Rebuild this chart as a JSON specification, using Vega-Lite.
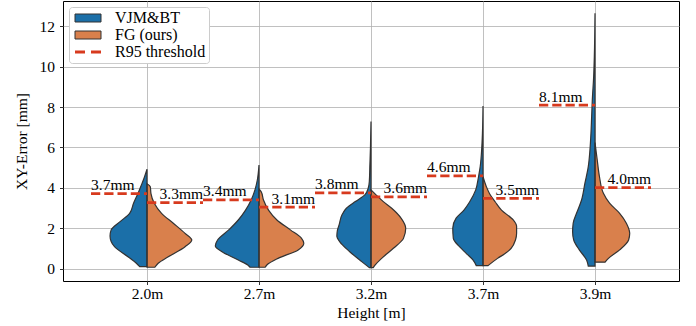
{
  "$schema": "https://vega.github.io/schema/vega-lite/v6.json",
  "width": 616,
  "height": 280,
  "autosize": {"type": "none"},
  "padding": {"left": 63, "top": 1, "right": 17, "bottom": 45},
  "background": "white",
  "datasets": {
    "violins": [
      {"h":"2.0m","series":"VJM&BT","pos":0,"err":0.1,"edge":-0.065},
      {"h":"2.0m","series":"VJM&BT","pos":0,"err":0.27,"edge":-0.095},
      {"h":"2.0m","series":"VJM&BT","pos":0,"err":0.59,"edge":-0.17},
      {"h":"2.0m","series":"VJM&BT","pos":0,"err":1.09,"edge":-0.29},
      {"h":"2.0m","series":"VJM&BT","pos":0,"err":1.35,"edge":-0.32},
      {"h":"2.0m","series":"VJM&BT","pos":0,"err":1.62,"edge":-0.33},
      {"h":"2.0m","series":"VJM&BT","pos":0,"err":1.92,"edge":-0.32},
      {"h":"2.0m","series":"VJM&BT","pos":0,"err":2.33,"edge":-0.24},
      {"h":"2.0m","series":"VJM&BT","pos":0,"err":2.74,"edge":-0.155},
      {"h":"2.0m","series":"VJM&BT","pos":0,"err":3.24,"edge":-0.12},
      {"h":"2.0m","series":"VJM&BT","pos":0,"err":3.73,"edge":-0.08},
      {"h":"2.0m","series":"VJM&BT","pos":0,"err":4.14,"edge":-0.05},
      {"h":"2.0m","series":"VJM&BT","pos":0,"err":4.5,"edge":-0.025},
      {"h":"2.0m","series":"VJM&BT","pos":0,"err":4.92,"edge":0},
      {"h":"2.0m","series":"FG (ours)","pos":0,"err":0.07,"edge":0.07},
      {"h":"2.0m","series":"FG (ours)","pos":0,"err":0.27,"edge":0.10},
      {"h":"2.0m","series":"FG (ours)","pos":0,"err":0.59,"edge":0.19},
      {"h":"2.0m","series":"FG (ours)","pos":0,"err":1.09,"edge":0.34},
      {"h":"2.0m","series":"FG (ours)","pos":0,"err":1.42,"edge":0.40},
      {"h":"2.0m","series":"FG (ours)","pos":0,"err":1.75,"edge":0.34},
      {"h":"2.0m","series":"FG (ours)","pos":0,"err":2.25,"edge":0.235},
      {"h":"2.0m","series":"FG (ours)","pos":0,"err":2.74,"edge":0.13},
      {"h":"2.0m","series":"FG (ours)","pos":0,"err":3.24,"edge":0.065},
      {"h":"2.0m","series":"FG (ours)","pos":0,"err":3.73,"edge":0.035},
      {"h":"2.0m","series":"FG (ours)","pos":0,"err":4.05,"edge":0.03},
      {"h":"2.0m","series":"FG (ours)","pos":0,"err":4.2,"edge":0},
      {"h":"2.7m","series":"VJM&BT","pos":1,"err":0.07,"edge":0.92},
      {"h":"2.7m","series":"VJM&BT","pos":1,"err":0.18,"edge":0.90},
      {"h":"2.7m","series":"VJM&BT","pos":1,"err":0.43,"edge":0.815},
      {"h":"2.7m","series":"VJM&BT","pos":1,"err":0.84,"edge":0.67},
      {"h":"2.7m","series":"VJM&BT","pos":1,"err":1.12,"edge":0.61},
      {"h":"2.7m","series":"VJM&BT","pos":1,"err":1.42,"edge":0.63},
      {"h":"2.7m","series":"VJM&BT","pos":1,"err":1.92,"edge":0.73},
      {"h":"2.7m","series":"VJM&BT","pos":1,"err":2.41,"edge":0.815},
      {"h":"2.7m","series":"VJM&BT","pos":1,"err":2.9,"edge":0.88},
      {"h":"2.7m","series":"VJM&BT","pos":1,"err":3.4,"edge":0.93},
      {"h":"2.7m","series":"VJM&BT","pos":1,"err":3.9,"edge":0.964},
      {"h":"2.7m","series":"VJM&BT","pos":1,"err":4.39,"edge":0.985},
      {"h":"2.7m","series":"VJM&BT","pos":1,"err":5.13,"edge":1.0},
      {"h":"2.7m","series":"FG (ours)","pos":1,"err":0.07,"edge":1.055},
      {"h":"2.7m","series":"FG (ours)","pos":1,"err":0.18,"edge":1.07},
      {"h":"2.7m","series":"FG (ours)","pos":1,"err":0.51,"edge":1.17},
      {"h":"2.7m","series":"FG (ours)","pos":1,"err":0.93,"edge":1.35},
      {"h":"2.7m","series":"FG (ours)","pos":1,"err":1.26,"edge":1.40},
      {"h":"2.7m","series":"FG (ours)","pos":1,"err":1.5,"edge":1.38},
      {"h":"2.7m","series":"FG (ours)","pos":1,"err":1.92,"edge":1.28},
      {"h":"2.7m","series":"FG (ours)","pos":1,"err":2.41,"edge":1.16},
      {"h":"2.7m","series":"FG (ours)","pos":1,"err":2.9,"edge":1.085},
      {"h":"2.7m","series":"FG (ours)","pos":1,"err":3.4,"edge":1.04},
      {"h":"2.7m","series":"FG (ours)","pos":1,"err":3.8,"edge":1.02},
      {"h":"2.7m","series":"FG (ours)","pos":1,"err":3.95,"edge":1.0},
      {"h":"3.2m","series":"VJM&BT","pos":2,"err":0.05,"edge":1.985},
      {"h":"3.2m","series":"VJM&BT","pos":2,"err":0.35,"edge":1.917},
      {"h":"3.2m","series":"VJM&BT","pos":2,"err":0.84,"edge":1.81},
      {"h":"3.2m","series":"VJM&BT","pos":2,"err":1.34,"edge":1.72},
      {"h":"3.2m","series":"VJM&BT","pos":2,"err":1.6,"edge":1.695},
      {"h":"3.2m","series":"VJM&BT","pos":2,"err":1.9,"edge":1.70},
      {"h":"3.2m","series":"VJM&BT","pos":2,"err":2.16,"edge":1.715},
      {"h":"3.2m","series":"VJM&BT","pos":2,"err":2.66,"edge":1.74},
      {"h":"3.2m","series":"VJM&BT","pos":2,"err":2.99,"edge":1.78},
      {"h":"3.2m","series":"VJM&BT","pos":2,"err":3.32,"edge":1.86},
      {"h":"3.2m","series":"VJM&BT","pos":2,"err":3.65,"edge":1.945},
      {"h":"3.2m","series":"VJM&BT","pos":2,"err":3.98,"edge":1.975},
      {"h":"3.2m","series":"VJM&BT","pos":2,"err":4.31,"edge":1.985},
      {"h":"3.2m","series":"VJM&BT","pos":2,"err":5.13,"edge":1.99},
      {"h":"3.2m","series":"VJM&BT","pos":2,"err":5.96,"edge":1.995},
      {"h":"3.2m","series":"VJM&BT","pos":2,"err":7.28,"edge":2.0},
      {"h":"3.2m","series":"FG (ours)","pos":2,"err":0.05,"edge":2.02},
      {"h":"3.2m","series":"FG (ours)","pos":2,"err":0.18,"edge":2.036},
      {"h":"3.2m","series":"FG (ours)","pos":2,"err":0.51,"edge":2.095},
      {"h":"3.2m","series":"FG (ours)","pos":2,"err":1.01,"edge":2.20},
      {"h":"3.2m","series":"FG (ours)","pos":2,"err":1.5,"edge":2.29},
      {"h":"3.2m","series":"FG (ours)","pos":2,"err":2.0,"edge":2.31},
      {"h":"3.2m","series":"FG (ours)","pos":2,"err":2.49,"edge":2.27},
      {"h":"3.2m","series":"FG (ours)","pos":2,"err":2.99,"edge":2.185},
      {"h":"3.2m","series":"FG (ours)","pos":2,"err":3.32,"edge":2.11},
      {"h":"3.2m","series":"FG (ours)","pos":2,"err":3.65,"edge":2.045},
      {"h":"3.2m","series":"FG (ours)","pos":2,"err":3.9,"edge":2.0},
      {"h":"3.7m","series":"VJM&BT","pos":3,"err":0.15,"edge":2.94},
      {"h":"3.7m","series":"VJM&BT","pos":3,"err":0.43,"edge":2.91},
      {"h":"3.7m","series":"VJM&BT","pos":3,"err":0.76,"edge":2.85},
      {"h":"3.7m","series":"VJM&BT","pos":3,"err":1.09,"edge":2.79},
      {"h":"3.7m","series":"VJM&BT","pos":3,"err":1.5,"edge":2.735},
      {"h":"3.7m","series":"VJM&BT","pos":3,"err":2.0,"edge":2.73},
      {"h":"3.7m","series":"VJM&BT","pos":3,"err":2.5,"edge":2.76},
      {"h":"3.7m","series":"VJM&BT","pos":3,"err":2.9,"edge":2.83},
      {"h":"3.7m","series":"VJM&BT","pos":3,"err":3.3,"edge":2.88},
      {"h":"3.7m","series":"VJM&BT","pos":3,"err":3.9,"edge":2.935},
      {"h":"3.7m","series":"VJM&BT","pos":3,"err":4.55,"edge":2.96},
      {"h":"3.7m","series":"VJM&BT","pos":3,"err":5.05,"edge":2.975},
      {"h":"3.7m","series":"VJM&BT","pos":3,"err":5.88,"edge":2.988},
      {"h":"3.7m","series":"VJM&BT","pos":3,"err":6.7,"edge":2.995},
      {"h":"3.7m","series":"VJM&BT","pos":3,"err":8.05,"edge":3.0},
      {"h":"3.7m","series":"FG (ours)","pos":3,"err":0.15,"edge":3.045},
      {"h":"3.7m","series":"FG (ours)","pos":3,"err":0.51,"edge":3.13},
      {"h":"3.7m","series":"FG (ours)","pos":3,"err":0.76,"edge":3.2},
      {"h":"3.7m","series":"FG (ours)","pos":3,"err":1.0,"edge":3.25},
      {"h":"3.7m","series":"FG (ours)","pos":3,"err":1.42,"edge":3.29},
      {"h":"3.7m","series":"FG (ours)","pos":3,"err":1.75,"edge":3.30},
      {"h":"3.7m","series":"FG (ours)","pos":3,"err":2.1,"edge":3.30},
      {"h":"3.7m","series":"FG (ours)","pos":3,"err":2.41,"edge":3.27},
      {"h":"3.7m","series":"FG (ours)","pos":3,"err":2.9,"edge":3.165},
      {"h":"3.7m","series":"FG (ours)","pos":3,"err":3.3,"edge":3.11},
      {"h":"3.7m","series":"FG (ours)","pos":3,"err":3.7,"edge":3.06},
      {"h":"3.7m","series":"FG (ours)","pos":3,"err":4.06,"edge":3.03},
      {"h":"3.7m","series":"FG (ours)","pos":3,"err":4.55,"edge":3.0},
      {"h":"3.9m","series":"VJM&BT","pos":4,"err":0.13,"edge":3.94},
      {"h":"3.9m","series":"VJM&BT","pos":4,"err":0.43,"edge":3.925},
      {"h":"3.9m","series":"VJM&BT","pos":4,"err":0.93,"edge":3.86},
      {"h":"3.9m","series":"VJM&BT","pos":4,"err":1.42,"edge":3.81},
      {"h":"3.9m","series":"VJM&BT","pos":4,"err":1.83,"edge":3.80},
      {"h":"3.9m","series":"VJM&BT","pos":4,"err":2.25,"edge":3.805},
      {"h":"3.9m","series":"VJM&BT","pos":4,"err":2.74,"edge":3.835},
      {"h":"3.9m","series":"VJM&BT","pos":4,"err":3.4,"edge":3.88},
      {"h":"3.9m","series":"VJM&BT","pos":4,"err":4.23,"edge":3.91},
      {"h":"3.9m","series":"VJM&BT","pos":4,"err":5.05,"edge":3.94},
      {"h":"3.9m","series":"VJM&BT","pos":4,"err":5.88,"edge":3.955},
      {"h":"3.9m","series":"VJM&BT","pos":4,"err":6.7,"edge":3.964},
      {"h":"3.9m","series":"VJM&BT","pos":4,"err":7.52,"edge":3.97},
      {"h":"3.9m","series":"VJM&BT","pos":4,"err":8.35,"edge":3.976},
      {"h":"3.9m","series":"VJM&BT","pos":4,"err":9.5,"edge":3.988},
      {"h":"3.9m","series":"VJM&BT","pos":4,"err":10.5,"edge":3.994},
      {"h":"3.9m","series":"VJM&BT","pos":4,"err":12.64,"edge":4.0},
      {"h":"3.9m","series":"FG (ours)","pos":4,"err":0.32,"edge":4.09},
      {"h":"3.9m","series":"FG (ours)","pos":4,"err":0.51,"edge":4.12},
      {"h":"3.9m","series":"FG (ours)","pos":4,"err":0.93,"edge":4.22},
      {"h":"3.9m","series":"FG (ours)","pos":4,"err":1.42,"edge":4.30},
      {"h":"3.9m","series":"FG (ours)","pos":4,"err":1.75,"edge":4.31},
      {"h":"3.9m","series":"FG (ours)","pos":4,"err":2.25,"edge":4.28},
      {"h":"3.9m","series":"FG (ours)","pos":4,"err":2.74,"edge":4.22},
      {"h":"3.9m","series":"FG (ours)","pos":4,"err":3.24,"edge":4.13},
      {"h":"3.9m","series":"FG (ours)","pos":4,"err":3.73,"edge":4.075},
      {"h":"3.9m","series":"FG (ours)","pos":4,"err":4.55,"edge":4.04},
      {"h":"3.9m","series":"FG (ours)","pos":4,"err":5.38,"edge":4.02},
      {"h":"3.9m","series":"FG (ours)","pos":4,"err":6.24,"edge":4.0}
    ],
    "r95": [
      {"h":"2.0m","series":"VJM&BT","x0":-0.5,"x1":0,"r95":3.72,"label":"3.7mm"},
      {"h":"2.0m","series":"FG (ours)","x0":0,"x1":0.5,"r95":3.27,"label":"3.3mm"},
      {"h":"2.7m","series":"VJM&BT","x0":0.5,"x1":1,"r95":3.40,"label":"3.4mm"},
      {"h":"2.7m","series":"FG (ours)","x0":1,"x1":1.5,"r95":3.05,"label":"3.1mm"},
      {"h":"3.2m","series":"VJM&BT","x0":1.5,"x1":2,"r95":3.75,"label":"3.8mm"},
      {"h":"3.2m","series":"FG (ours)","x0":2,"x1":2.5,"r95":3.55,"label":"3.6mm"},
      {"h":"3.7m","series":"VJM&BT","x0":2.5,"x1":3,"r95":4.59,"label":"4.6mm"},
      {"h":"3.7m","series":"FG (ours)","x0":3,"x1":3.5,"r95":3.48,"label":"3.5mm"},
      {"h":"3.9m","series":"VJM&BT","x0":3.5,"x1":4,"r95":8.09,"label":"8.1mm"},
      {"h":"3.9m","series":"FG (ours)","x0":4,"x1":4.5,"r95":4.01,"label":"4.0mm"}
    ]
  },
  "encoding": {
    "x": {
      "type": "quantitative",
      "scale": {"domain": [-0.75, 4.75], "nice": false, "zero": false},
      "axis": {
        "title": "Height [m]",
        "values": [0, 1, 2, 3, 4],
        "labelExpr": "['2.0m','2.7m','3.2m','3.7m','3.9m'][datum.value]",
        "labelPadding": 2,
        "titlePadding": 3
      }
    },
    "y": {
      "type": "quantitative",
      "scale": {"domain": [-0.61, 13.25], "nice": false, "zero": false},
      "axis": {
        "title": "XY-Error [mm]",
        "values": [0, 2, 4, 6, 8, 10, 12],
        "labelPadding": 5,
        "titlePadding": 10
      }
    }
  },
  "layer": [
    {
      "data": {"name": "violins"},
      "mark": {"type": "area", "orient": "horizontal", "interpolate": "monotone", "opacity": 1, "fillOpacity": 1},
      "encoding": {
        "x": {"field": "edge", "type": "quantitative", "stack": null},
        "x2": {"field": "pos"},
        "y": {"field": "err", "type": "quantitative"},
        "detail": {"field": "h"},
        "color": {
          "field": "series",
          "type": "nominal",
          "scale": {"domain": ["VJM&BT", "FG (ours)", "R95 threshold"], "range": ["#1b6fa8", "#d9804c", "#d73a1e"]},
          "legend": {
            "title": null,
            "orient": "top-left",
            "offset": 6,
            "padding": 3,
            "fillColor": "white",
            "strokeColor": "#cccccc",
            "cornerRadius": 3,
            "labelFont": "Liberation Serif",
            "labelFontSize": 16,
            "labelColor": "black",
            "symbolSize": 100,
            "symbolOffset": 8,
            "labelOffset": 19,
            "rowPadding": 1,
            "symbolOpacity": 1,
            "symbolStrokeWidth": 1,
            "symbolType": {"expr": "datum.value === 'R95 threshold' ? 'M-2.6,-0.28H-0.6V0.28H-2.6ZM0.6,-0.28H2.6V0.28H0.6Z' : 'M-2.6,-0.8H2.6V0.8H-2.6Z'"},
            "symbolStrokeColor": {"expr": "datum.value === 'R95 threshold' ? 'transparent' : '#333333'"}
          }
        }
      }
    },
    {
      "data": {"name": "violins"},
      "mark": {"type": "area", "orient": "horizontal", "interpolate": "monotone", "fill": "transparent", "stroke": "#333333", "strokeWidth": 1.2},
      "encoding": {
        "x": {"field": "edge", "type": "quantitative", "stack": null},
        "x2": {"field": "pos"},
        "y": {"field": "err", "type": "quantitative"},
        "detail": [{"field": "h"}, {"field": "series"}]
      }
    },
    {
      "data": {"name": "r95"},
      "mark": {"type": "rule", "strokeWidth": 2.75, "strokeDash": [9.25, 4], "color": "#d73a1e"},
      "encoding": {
        "x": {"field": "x0", "type": "quantitative"},
        "x2": {"field": "x1"},
        "y": {"field": "r95", "type": "quantitative"}
      }
    },
    {
      "data": {"name": "r95"},
      "transform": [{"filter": "datum.series === 'VJM&BT'"}],
      "mark": {"type": "text", "align": "left", "baseline": "alphabetic", "dy": -3.5, "font": "Liberation Serif", "fontSize": 15.5, "color": "black"},
      "encoding": {
        "x": {"field": "x0", "type": "quantitative"},
        "y": {"field": "r95", "type": "quantitative"},
        "text": {"field": "label"}
      }
    },
    {
      "data": {"name": "r95"},
      "transform": [{"filter": "datum.series === 'FG (ours)'"}],
      "mark": {"type": "text", "align": "right", "baseline": "alphabetic", "dy": -3.5, "font": "Liberation Serif", "fontSize": 15.5, "color": "black"},
      "encoding": {
        "x": {"field": "x1", "type": "quantitative"},
        "y": {"field": "r95", "type": "quantitative"},
        "text": {"field": "label"}
      }
    }
  ],
  "config": {
    "view": {"stroke": "black", "strokeWidth": 1},
    "font": "Liberation Serif",
    "axis": {
      "zindex": 1,
      "domain": false,
      "grid": true,
      "gridColor": "#b0b0b0",
      "gridWidth": 0.8,
      "tickColor": "black",
      "tickSize": 3.5,
      "tickWidth": 0.8,
      "labelFont": "Liberation Serif",
      "labelFontSize": 15.5,
      "labelColor": "black",
      "titleFont": "Liberation Serif",
      "titleFontSize": 15.5,
      "titleFontWeight": "normal",
      "titleColor": "black"
    }
  }
}
